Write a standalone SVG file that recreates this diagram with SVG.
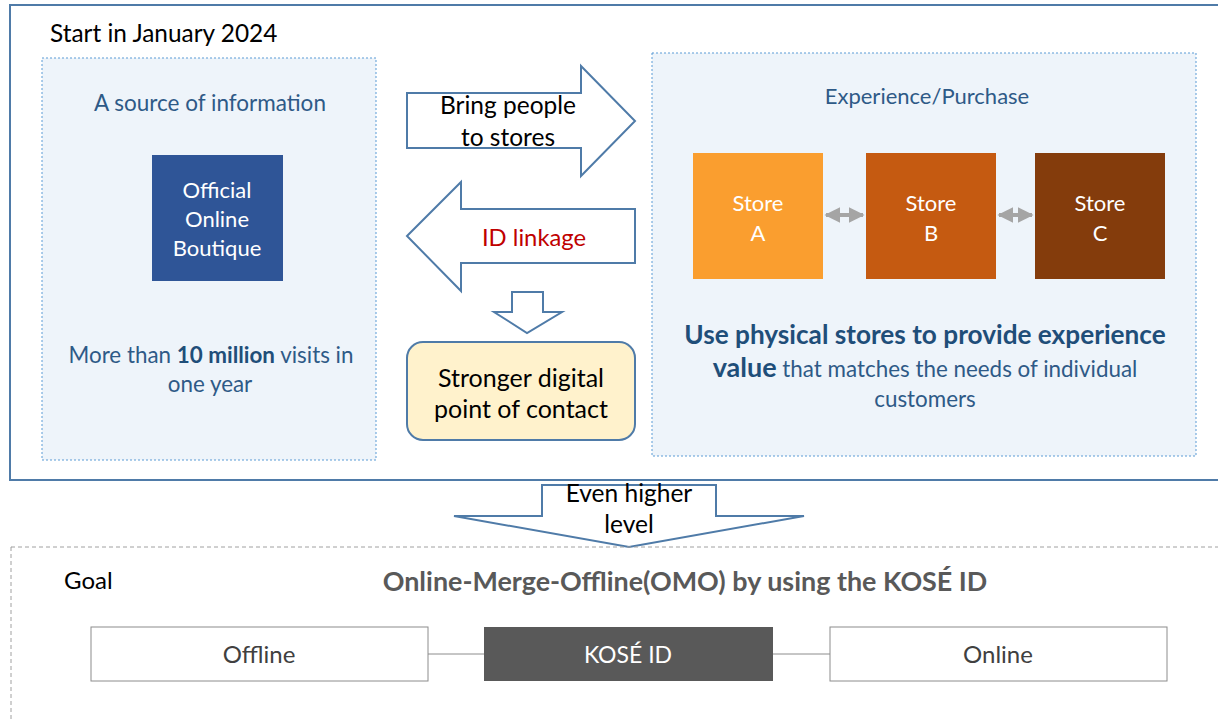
<svg xmlns="http://www.w3.org/2000/svg" width="1218" height="719" viewBox="0 0 1218 719">
<style>
text{font-family:Lato,"Open Sans","Liberation Sans",sans-serif}
.blk{fill:#000;font-size:24.5px;text-anchor:middle}
.nav{fill:#2e5a87;font-size:22.4px;text-anchor:middle}
.wht{fill:#fff;font-size:22px;text-anchor:middle}
.dot{fill:#eef4fa;stroke:#5b9bd5;stroke-width:1;stroke-dasharray:2 2}
.arr{fill:#fff;stroke:#4f7ba8;stroke-width:2}
.gbox{fill:#fff;stroke:#8c8c8c;stroke-width:1}
</style>
<defs>
<marker id="dh" viewBox="0 0 10 10" refX="9" refY="5" markerWidth="4" markerHeight="4" orient="auto-start-reverse"><path d="M0,0 L10,5 L0,10 z" fill="#a5a5a5"/></marker>
</defs>
<rect width="1218" height="719" fill="#fff"/>
<g id="frame">
<rect x="10" y="5" width="1215" height="475" fill="none" stroke="#4f7ba8" stroke-width="2"/>
<text x="50" y="42" style="fill:#000;font-size:24.4px">Start in January 2024</text>
</g>
<g id="source">
<rect class="dot" x="42" y="58" width="334" height="402"/>
<text class="nav" x="210" y="111" style="font-size:22.5px">A source of information</text>
<text class="nav" x="211" y="363">More than <tspan font-weight="bold" fill="#1f4e79">10 million</tspan> visits in</text>
<text class="nav" x="210" y="392">one year</text>
</g>
<g id="boutique">
<rect x="152" y="155" width="131" height="126" fill="#2f5597"/>
<text class="wht" x="217" y="198">Official</text>
<text class="wht" x="217" y="227">Online</text>
<text class="wht" x="217" y="256">Boutique</text>
</g>
<g id="experience">
<rect class="dot" x="652" y="53" width="544" height="403"/>
<text class="nav" x="927" y="104" style="font-size:22px">Experience/Purchase</text>
<text x="925" y="344" style="fill:#1f4e79;font-size:26.2px;font-weight:bold;text-anchor:middle">Use physical stores to provide experience</text>
<text class="nav" x="925" y="377"><tspan font-weight="bold" font-size="27px" fill="#1f4e79">value</tspan> that matches the needs of individual</text>
<text class="nav" x="925" y="407">customers</text>
</g>
<g id="storeA">
<rect x="693" y="153" width="130" height="126" fill="#fa9e2f"/>
<text class="wht" x="758" y="211">Store</text>
<text class="wht" x="758" y="241">A</text>
</g>
<g id="storeB">
<rect x="866" y="153" width="130" height="126" fill="#c55a11"/>
<text class="wht" x="931" y="211">Store</text>
<text class="wht" x="931" y="241">B</text>
</g>
<g id="storeC">
<rect x="1035" y="153" width="130" height="126" fill="#843c0c"/>
<text class="wht" x="1100" y="211">Store</text>
<text class="wht" x="1100" y="241">C</text>
</g>
<g id="bring">
<path class="arr" d="M407,93 L581,93 L581,66 L635,121 L581,176 L581,148 L407,148 Z"/>
<text class="blk" x="508" y="114">Bring people</text>
<text class="blk" x="508" y="146">to stores</text>
</g>
<g id="idlink">
<path class="arr" d="M407,236 L461,182 L461,209 L635,209 L635,263 L461,263 L461,291 Z"/>
<text class="blk" x="534" y="246" style="fill:#c00000;font-size:23.8px">ID linkage</text>
</g>
<g id="stronger">
<rect x="407" y="342" width="228" height="98" rx="16" fill="#fff2cc" stroke="#4f7ba8" stroke-width="2"/>
<text class="blk" x="521" y="387" style="font-size:25px">Stronger digital</text>
<text class="blk" x="521" y="418" style="font-size:25px">point of contact</text>
</g>
<g id="higher">
<path class="arr" d="M542,485 L716,485 L716,516 L804,516 L629,547 L454,516 L542,516 Z"/>
<text class="blk" x="629" y="502">Even higher</text>
<text class="blk" x="629" y="533">level</text>
</g>
<g id="goal">
<rect x="11" y="547" width="1215" height="180" fill="none" stroke="#a0a0a0" stroke-width="1" stroke-dasharray="4 3"/>
<text x="64" y="589" style="fill:#000;font-size:24px">Goal</text>
<text x="685" y="591" style="fill:#595959;font-size:26.9px;font-weight:bold;text-anchor:middle">Online-Merge-Offline(OMO) by using the KOSÉ ID</text>
</g>
<g id="offline">
<rect class="gbox" x="91" y="627" width="337" height="54"/>
<text x="259" y="663" style="fill:#404040;font-size:24px;text-anchor:middle">Offline</text>
</g>
<g id="koseid">
<rect x="484" y="627" width="289" height="54" fill="#595959"/>
<text class="wht" x="628" y="663" style="font-size:23px">KOSÉ ID</text>
</g>
<g id="online">
<rect class="gbox" x="830" y="627" width="337" height="54"/>
<text x="998" y="663" style="fill:#404040;font-size:24px;text-anchor:middle">Online</text>
</g>
<g id="connectors">
<path d="M494,312 L512,312 L512,292 L543,292 L543,312 L562,312 L527,333 Z" class="arr" stroke-width="1.5"/>
<line x1="826" y1="215" x2="863" y2="215" stroke="#a5a5a5" stroke-width="4" marker-start="url(#dh)" marker-end="url(#dh)"/>
<line x1="999" y1="215" x2="1032" y2="215" stroke="#a5a5a5" stroke-width="4" marker-start="url(#dh)" marker-end="url(#dh)"/>
<line x1="428" y1="654" x2="484" y2="654" stroke="#8c8c8c" stroke-width="1"/>
<line x1="773" y1="654" x2="830" y2="654" stroke="#8c8c8c" stroke-width="1"/>
</g>
</svg>
